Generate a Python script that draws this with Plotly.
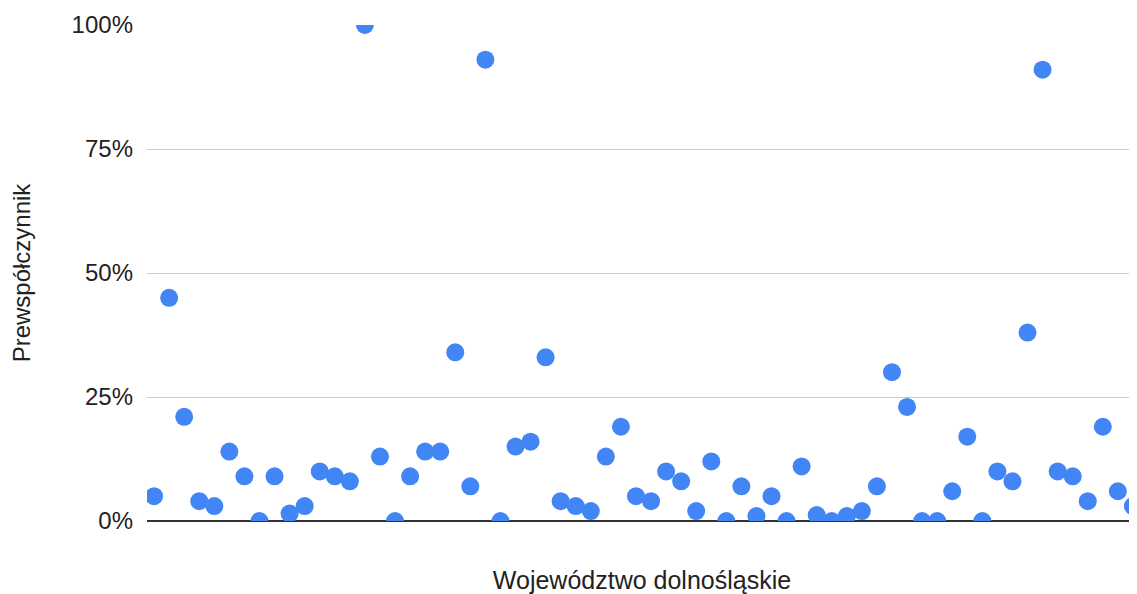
import plotly.graph_objects as go

# Values (fractions of 1 = 100%)
values = [0.05, 0.45, 0.21, 0.04, 0.03, 0.14, 0.09, 0.0, 0.09, 0.015,
          0.03, 0.10, 0.09, 0.08, 1.00, 0.13, 0.0, 0.09, 0.14, 0.14,
          0.34, 0.07, 0.93, 0.0, 0.15, 0.16, 0.33, 0.04, 0.03, 0.02,
          0.13, 0.19, 0.05, 0.04, 0.10, 0.08, 0.02, 0.12, 0.0, 0.07,
          0.01, 0.05, 0.0, 0.11, 0.012, 0.0, 0.01, 0.02, 0.07, 0.30,
          0.23, 0.0, 0.0, 0.06, 0.17, 0.0, 0.10, 0.08, 0.38, 0.91,
          0.10, 0.09, 0.04, 0.19, 0.06, 0.03]
positions = list(range(len(values)))

y_tickvals = [0, 0.25, 0.5, 0.75, 1.0]
y_ticktext = ["0%", "25%", "50%", "75%", "100%"]

x_title = "Województwo dolnośląskie"
y_title = "Prewspółczynnik"

fig = go.Figure(go.Scatter(
    x=positions, y=values, mode="markers",
    marker=dict(color="#4285F4", size=18, line=dict(width=0)),
    cliponaxis=True,
    hoverinfo="y",
))

font_family = "Liberation Sans, Arial, sans-serif"

# The page body adds an 8px offset; figure is sized to end at the window edge.
fig.update_layout(
    width=1129, height=586,
    margin=dict(l=139, r=0, t=17, b=73),
    plot_bgcolor="white", paper_bgcolor="white",
    showlegend=False,
    font=dict(family=font_family, color="#222222", size=24),
    xaxis=dict(
        range=[-0.47, 65.27], showticklabels=False, showgrid=False,
        zeroline=False, showline=False, ticks="",
        title=dict(text=x_title, font=dict(size=25, color="#222222"), standoff=51),
        automargin=False,
    ),
    yaxis=dict(
        range=[0, 1], tickvals=y_tickvals, ticktext=y_ticktext,
        showgrid=True, gridcolor="#cccccc", gridwidth=1,
        zeroline=True, zerolinecolor="#333333", zerolinewidth=2,
        showline=False, ticks="", ticklabelstandoff=13,
        tickfont=dict(size=24, color="#222222"),
        title=dict(text=y_title, font=dict(size=24, color="#222222"), standoff=34),
        automargin=False,
    ),
)

fig.write_html("out.html")
